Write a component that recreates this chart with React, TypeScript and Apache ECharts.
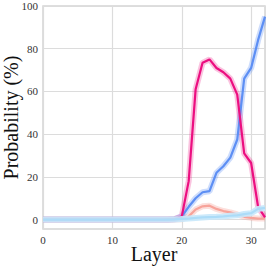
import React, { useEffect, useRef } from "react";
import * as echarts from "echarts";

const layers = Array.from({ length: 33 }, (_, i) => i);
const magenta = [0,0,0,0,0,0,0,0,0,0,0,0,0,0,0,0,0,0,0.1,0.2,1.4,18,61,73.4,75,71,69,66,58.5,31,26.5,6,1];
const blue = [0,0,0,0,0,0,0,0,0,0,0,0,0,0,0,0,0,0,0.1,0.3,1.5,6,10,12.8,13.3,21.9,25,29,37.5,66,71,84,95];
const salmon = [0,0,0,0,0,0,0,0,0,0,0,0,0,0,0,0,0,0,0,0,0.2,1.5,4.7,6.2,6.5,5,4,3.4,2.4,1.3,0.8,0.5,0.5];
const lightBlue = [0,0,0,0,0,0,0,0,0,0,0,0,0,0,0,0,0,0,0,0.1,0.3,0.5,0.8,1,1.2,1.3,1.5,1.8,2,2.6,3,5,5.5];
const yTicks = [0, 20, 40, 60, 80, 100];

const seriesDefs = [
  { name: "salmon", data: salmon, color: "#f7a39a", band: "rgba(247,163,154,0.35)", z: 2 },
  { name: "blue", data: blue, color: "#5d8ff4", band: "rgba(93,143,244,0.3)", z: 2 },
  { name: "magenta", data: magenta, color: "#ec0f80", band: "rgba(236,15,128,0.25)", z: 2 },
  { name: "lightblue", data: lightBlue, color: "#acdcf8", band: "rgba(200,232,251,0.9)", z: 4 },
];

const FONT = "Liberation Serif";

export default function App() {
  const ref = useRef<HTMLDivElement>(null);
  useEffect(() => {
    if (!ref.current) return;
    const chart = echarts.init(ref.current, null, { renderer: "svg" });
    const series: any[] = [];
    seriesDefs.forEach((s) => {
      series.push({
        type: "line",
        data: layers.map((l, i) => [l, s.data[i]]),
        showSymbol: false,
        lineStyle: { color: s.band, width: 6 },
        z: s.z,
      });
    });
    seriesDefs.forEach((s) => {
      series.push({
        type: "line",
        data: layers.map((l, i) => [l, s.data[i]]),
        showSymbol: false,
        lineStyle: { color: s.color, width: 2.2 },
        z: s.z + 1,
      });
    });
    chart.setOption({
      animation: false,
      textStyle: { fontFamily: FONT },
      grid: {
        left: 43, right: 1, top: 6, bottom: 37,
        outerBoundsMode: "none",
        containLabel: false,
        show: true, borderColor: "#d4d4d4", borderWidth: 1.5,
      },
      xAxis: {
        type: "value",
        min: 0, max: 32, interval: 10,
        name: "Layer", nameLocation: "middle", nameGap: 15, nameMoveOverlap: false,
        nameTextStyle: { fontFamily: FONT, fontSize: 20, color: "#111", verticalAlign: "top" },
        axisLine: { show: false },
        axisTick: { show: false },
        axisLabel: { fontFamily: FONT, fontSize: 11, color: "#333", margin: 5, showMaxLabel: false },
        splitLine: { lineStyle: { color: "#dcdcdc", width: 1.2 } },
      },
      yAxis: {
        type: "value",
        min: -4.4, max: 100,
        name: "Probability (%)", nameLocation: "middle", nameGap: 22, nameMoveOverlap: false,
        nameTextStyle: { fontFamily: FONT, fontSize: 20, color: "#111", verticalAlign: "bottom" },
        axisLine: { show: false },
        axisTick: { show: false, customValues: yTicks },
        axisLabel: { fontFamily: FONT, fontSize: 11, color: "#333", margin: 5, customValues: yTicks },
        splitLine: { lineStyle: { color: "#dcdcdc", width: 1.2 } },
      },
      series,
    });
    return () => chart.dispose();
  }, []);
  return <div ref={ref} style={{ width: 266, height: 266, position: "absolute", left: 0, top: 0 }} />;
}
